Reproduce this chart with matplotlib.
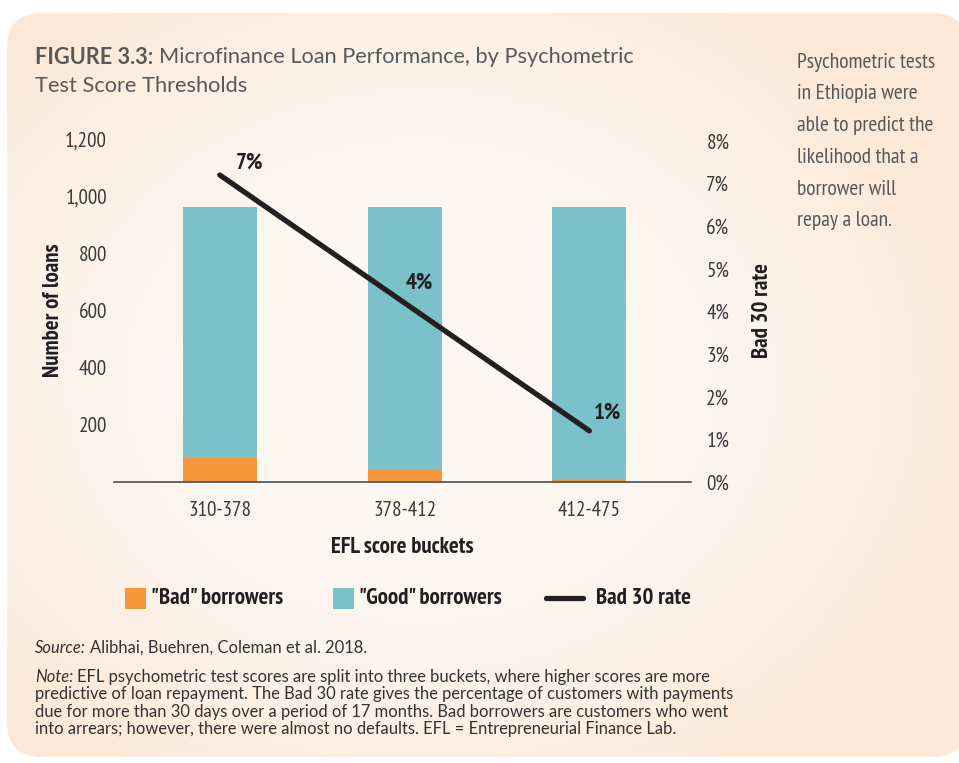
import numpy as np
import matplotlib.pyplot as plt
from matplotlib.patches import FancyBboxPatch, Rectangle
from matplotlib.lines import Line2D
from matplotlib.ticker import FuncFormatter

# loans per EFL score bucket
buckets = ['310-378', '378-412', '412-475']
bad_borrowers = [85, 43, 8]
good_borrowers = [875, 917, 952]
bad30_rate = [0.072, 0.042, 0.012]

orange = '#F7963C'
teal = '#7AC1CA'
ink = '#231F20'
grey = '#4D4D4F'
title_grey = '#58595B'

cond = ['PT Sans Narrow', 'Roboto Condensed', 'Fira Sans Condensed', 'Archivo Narrow', 'DejaVu Sans']
body = ['Lato', 'DejaVu Sans']

W, H = 959, 763
fig = plt.figure(figsize=(W / 100, H / 100), dpi=100)
fig.patch.set_facecolor('white')
renderer = fig.canvas.get_renderer()


def px(xp, yp):
    return xp / W, 1 - yp / H


def text_after(t, gap=5):
    # right edge of a placed text, in figure pixels
    bb = t.get_window_extent(renderer)
    return bb.x1 + gap


# rounded peach panel with soft gradient
bg = fig.add_axes([0, 0, 1, 1], zorder=-5)
bg.set_xlim(0, W)
bg.set_ylim(H, 0)
bg.axis('off')
yy, xx = np.mgrid[0:H, 0:W]
fx = (xx - 420) / 560.0
fy = (yy - 380) / 460.0
f = np.clip(np.sqrt(fx ** 2 + fy ** 2), 0, 1) ** 2.5
inner = np.array([253, 248, 243]) / 255.0
outer = np.array([252, 232, 214]) / 255.0
img = inner[None, None, :] * (1 - f[..., None]) + outer[None, None, :] * f[..., None]
im = bg.imshow(img, extent=[0, W, H, 0], aspect='auto', interpolation='bilinear')
panel = FancyBboxPatch((7 + 35, 13 + 35), 960 - 70, 744 - 70,
                       boxstyle='round,pad=35', transform=bg.transData,
                       facecolor='none', edgecolor='none')
bg.add_patch(panel)
im.set_clip_path(panel)

# main chart
ax = fig.add_axes([114.5 / W, 1 - 482 / H, (691 - 114.5) / W, 343.2 / H])
ax.patch.set_alpha(0)
x = np.arange(len(buckets))
ax.bar(x, bad_borrowers, width=0.4, color=orange, zorder=2)
ax.bar(x, good_borrowers, width=0.4, bottom=bad_borrowers, color=teal, zorder=2)
ax.set_xlim(-0.57, 2.55)
ax.set_ylim(0, 1200)
ax.set_yticks([200, 400, 600, 800, 1000, 1200])
ax.yaxis.set_major_formatter(FuncFormatter(lambda v, p: f'{int(v):,}'))
for s in ['top', 'left', 'right']:
    ax.spines[s].set_visible(False)
ax.spines['bottom'].set_color(grey)
ax.spines['bottom'].set_linewidth(1.2)
ax.tick_params(axis='both', length=0, labelsize=15.2, labelcolor='#3a3a3a')
ax.tick_params(axis='y', pad=5.5)
ax.tick_params(axis='x', pad=14)
ax.set_xticks(x)
ax.set_xticklabels(buckets)
for t in ax.get_xticklabels() + ax.get_yticklabels():
    t.set_family(cond)
ax.set_ylabel('Number of loans', fontsize=16.5, fontweight='bold', family=cond,
              color=ink, labelpad=1)
ax.set_xlabel('EFL score buckets', fontsize=16.5, fontweight='bold', family=cond,
              color=ink, labelpad=12)

ax2 = ax.twinx()
ax2.patch.set_alpha(0)
ax2.plot(x, bad30_rate, color=ink, lw=3.8, solid_capstyle='round', zorder=3)
ax2.set_ylim(0, 0.0805)
ax2.set_yticks(np.arange(0, 0.081, 0.01))
ax2.yaxis.set_major_formatter(FuncFormatter(lambda v, p: f'{v * 100:.0f}%'))
for s in ['top', 'left', 'right', 'bottom']:
    ax2.spines[s].set_visible(False)
ax2.tick_params(axis='y', length=0, labelsize=15.2, labelcolor='#3a3a3a', pad=11)
for t in ax2.get_yticklabels():
    t.set_family(cond)
ax2.set_ylabel('Bad 30 rate', fontsize=16.5, fontweight='bold', family=cond,
               color=ink, labelpad=16)
label_offsets = [(30, 12), (15, 20), (18, 18)]
for xi, v, off in zip(x, bad30_rate, label_offsets):
    ax2.annotate(f'{v * 100:.0f}%', (xi, v), xytext=off, textcoords='offset pixels',
                 ha='center', va='center', fontsize=16.5, fontweight='bold',
                 family=cond, color=ink)

# legend row
ly = 598
for x0, color, label in [(125, orange, '"Bad" borrowers'), (333, teal, '"Good" borrowers')]:
    fig.add_artist(Rectangle(px(x0, ly + 10.5), 21 / W, 21 / H, transform=fig.transFigure,
                             facecolor=color, edgecolor='none'))
    fig.text(*px(x0 + 26, ly), label, fontsize=16.5, fontweight='bold', family=cond,
             color=ink, va='center')
fig.add_artist(Line2D([546 / W, 583 / W], [1 - ly / H, 1 - ly / H], transform=fig.transFigure,
                      color=ink, lw=3.8, solid_capstyle='round'))
fig.text(*px(596, ly), 'Bad 30 rate', fontsize=16.5, fontweight='bold', family=cond,
         color=ink, va='center')

# title
t = fig.text(*px(35, 57), 'FIGURE 3.3:', fontsize=15.7, fontweight='bold',
             family=body, color=title_grey, va='center')
fig.text(text_after(t, 6) / W, 1 - 57 / H, 'Microfinance Loan Performance, by Psychometric',
         fontsize=15.7, family=body, color=title_grey, va='center')
fig.text(*px(35, 86), 'Test Score Thresholds', fontsize=15.7, family=body,
         color=title_grey, va='center')

# sidebar
side = ['Psychometric tests', 'in Ethiopia were', 'able to predict the',
        'likelihood that a', 'borrower will', 'repay a loan.']
for i, s in enumerate(side):
    fig.text(*px(797, 62 + 31.8 * i), s, fontsize=15.5, family=cond,
             color=title_grey, va='center')

# source and note
fs = 11.9
t = fig.text(*px(35, 648), 'Source:', fontsize=fs, style='italic', family=body,
             color='#333333', va='center')
fig.text(text_after(t, 4) / W, 1 - 648 / H, 'Alibhai, Buehren, Coleman et al. 2018.',
         fontsize=fs, family=body, color='#333333', va='center')
note = ['EFL psychometric test scores are split into three buckets, where higher scores are more',
        'predictive of loan repayment. The Bad 30 rate gives the percentage of customers with payments',
        'due for more than 30 days over a period of 17 months. Bad borrowers are customers who went',
        'into arrears; however, there were almost no defaults. EFL = Entrepreneurial Finance Lab.']
t = fig.text(*px(35, 677), 'Note:', fontsize=fs, style='italic', family=body,
             color='#333333', va='center')
nx = text_after(t, 4)
for i, s in enumerate(note):
    fig.text((nx if i == 0 else 35) / W, 1 - (677 + 17.4 * i) / H, s, fontsize=fs,
             family=body, color='#333333', va='center')

fig.savefig('out.png', dpi=100)
